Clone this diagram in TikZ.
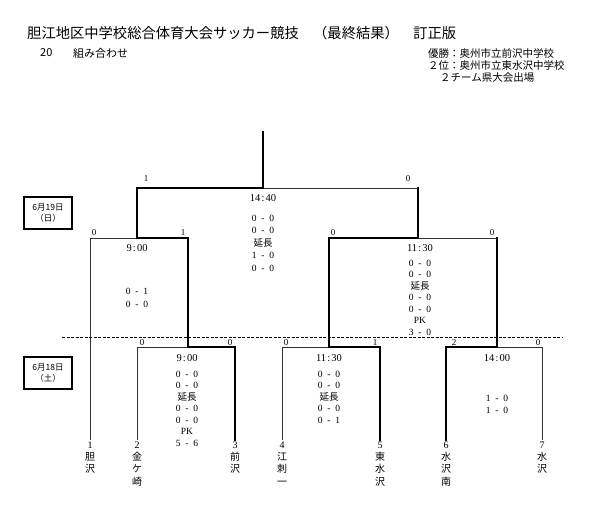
\documentclass[tikz,border=0pt]{standalone}
\usepackage{fontspec}
\setmainfont{Liberation Serif}
\newfontfamily\jp{Noto Sans CJK JP}
\usepackage{tikz}
\usetikzlibrary{positioning,calc}
\newcommand{\res}[2]{#1\enspace-\enspace#2}
\newcommand{\kick}[2]{#1\makebox[0.5em]{:}#2}

\begin{document}
\begin{tikzpicture}[x=1pt, y=-1pt]
  \tikzstyle{win} = [line width=2.2pt, line cap=rect]
  \tikzstyle{lose} = [line width=0.8pt, black!80]
  \tikzstyle{pt} = [font=\fontsize{9}{10}\selectfont, inner sep=0pt, anchor=base]
  \tikzstyle{time} = [font=\fontsize{10.5}{12}\selectfont, inner sep=0pt]
  \tikzstyle{score} = [font=\fontsize{9.5}{11.5}\selectfont, inner sep=0pt, align=center, anchor=north]
  \tikzstyle{team} = [font=\jp\fontsize{10}{12.3}\selectfont, inner sep=0pt, align=center, anchor=north]
  \tikzstyle{datebox} = [rectangle, draw, line width=1.6pt, minimum width=48pt, minimum height=32pt, align=center, font=\jp\fontsize{8.5}{10.5}\selectfont, inner sep=0pt]
  \tikzstyle{head} = [anchor=west, inner sep=0pt]

  \useasboundingbox (0,0) rectangle (590,505);

  \node[head, font=\jp\fontsize{14.3}{16}\selectfont] (title) at (27,33) {胆江地区中学校総合体育大会サッカー競技　（最終結果）　訂正版};
  \node[head, font=\jp\fontsize{11}{13}\selectfont] (round_no) at (40,53) {20};
  \node[head, font=\jp\fontsize{11}{13}\selectfont] (kumi) at (73,53) {組み合わせ};

  \node[head, font=\jp\fontsize{10.5}{12}\selectfont] (res_1) at (428,54) {優勝：奥州市立前沢中学校};
  \node[head, font=\jp\fontsize{10.5}{12}\selectfont] (res_2) at (428,66) {２位：奥州市立東水沢中学校};
  \node[head, font=\jp\fontsize{10.5}{12}\selectfont] (res_3) at (440,78) {２チーム県大会出場};

  \node[datebox] (day_2) at (48,213) {6月19日\\（日）};
  \node[datebox] (day_1) at (48,373) {6月18日\\（土）};

  \coordinate (dash_l) at (62,337);
  \coordinate (dash_r) at (563,337);
  \draw[line width=0.8pt, dash pattern=on 3pt off 1.5pt] (dash_l) -- (dash_r);

  \coordinate (t1) at (90,440);
  \coordinate (t2) at (137,440);
  \coordinate (t3) at (235,440);
  \coordinate (t4) at (282,440);
  \coordinate (t5) at (380,440);
  \coordinate (t6) at (446,440);
  \coordinate (t7) at (542,440);

  \coordinate (m_a) at (188,347);
  \coordinate (m_b) at (329,347);
  \coordinate (m_c) at (497,347);
  \coordinate (m_qf) at (137,238);
  \coordinate (m_sf) at (418,238);
  \coordinate (m_final) at (263,188);
  \coordinate (champ) at (263,132);

  \draw[lose] (t2) |- (m_a);
  \draw[win] (t3) |- (m_a);
  \draw[lose] (t4) |- (m_b);
  \draw[win] (t5) |- (m_b);
  \draw[win] (t6) |- (m_c);
  \draw[lose] (t7) |- (m_c);
  \draw[lose] (t1) |- (m_qf);
  \draw[win] (m_a) |- (m_qf);
  \draw[win] (m_b) |- (m_sf);
  \draw[win] (m_c) -- (m_c |- m_sf);
  \draw[lose] (m_c |- m_sf) -- (m_sf);
  \draw[win] (m_qf) |- (m_final);
  \draw[win] (m_sf) -- (m_sf |- m_final);
  \draw[lose] (m_sf |- m_final) -- (m_final);
  \draw[win] (m_final) -- (champ);

  \node[pt] (p_final_l) at (146,182) {1};
  \node[pt] (p_final_r) at (408,182) {0};
  \node[pt] (p_qf_l) at (94,236) {0};
  \node[pt] (p_qf_r) at (183,236) {1};
  \node[pt] (p_sf_l) at (333,236) {0};
  \node[pt] (p_sf_r) at (492,236) {0};
  \node[pt] (p_a_l) at (142,346) {0};
  \node[pt] (p_a_r) at (230,346) {0};
  \node[pt] (p_b_l) at (286,346) {0};
  \node[pt] (p_b_r) at (375,346) {1};
  \node[pt] (p_c_l) at (454,346) {2};
  \node[pt] (p_c_r) at (538,346) {0};

  \node[time] (time_final) at (263,198) {\kick{14}{40}};
  \node[time] (time_qf) at (137,248) {\kick{9}{00}};
  \node[time] (time_sf) at (420,248) {\kick{11}{30}};
  \node[time] (time_a) at (187,358) {\kick{9}{00}};
  \node[time] (time_b) at (329,358) {\kick{11}{30}};
  \node[time] (time_c) at (497,358) {\kick{14}{00}};

  \node[score, font=\fontsize{9.5}{12.5}\selectfont] (sc_final) at (263,214.5) {\res{0}{0}\\\res{0}{0}\\{\jp 延長}\\\res{1}{0}\\\res{0}{0}};
  \node[score, font=\fontsize{9.5}{13}\selectfont] (sc_qf) at (137,287.5) {\res{0}{1}\\\res{0}{0}};
  \node[score] (sc_sf) at (420,259.5) {\res{0}{0}\\\res{0}{0}\\{\jp 延長}\\\res{0}{0}\\\res{0}{0}\\PK\\\res{3}{0}};
  \node[score] (sc_a) at (187,370.5) {\res{0}{0}\\\res{0}{0}\\{\jp 延長}\\\res{0}{0}\\\res{0}{0}\\PK\\\res{5}{6}};
  \node[score] (sc_b) at (329,370.5) {\res{0}{0}\\\res{0}{0}\\{\jp 延長}\\\res{0}{0}\\\res{0}{1}};
  \node[score, font=\fontsize{9.5}{12}\selectfont] (sc_c) at (497,394.5) {\res{1}{0}\\\res{1}{0}};

  \node[team] (name_1) at ($(t1)+(0,1.5)$) {{\rmfamily 1}\\胆\\沢};
  \node[team] (name_2) at ($(t2)+(0,1.5)$) {{\rmfamily 2}\\金\\ケ\\崎};
  \node[team] (name_3) at ($(t3)+(0,1.5)$) {{\rmfamily 3}\\前\\沢};
  \node[team] (name_4) at ($(t4)+(0,1.5)$) {{\rmfamily 4}\\江\\刺\\一};
  \node[team] (name_5) at ($(t5)+(0,1.5)$) {{\rmfamily 5}\\東\\水\\沢};
  \node[team] (name_6) at ($(t6)+(0,1.5)$) {{\rmfamily 6}\\水\\沢\\南};
  \node[team] (name_7) at ($(t7)+(0,1.5)$) {{\rmfamily 7}\\水\\沢};
\end{tikzpicture}
\end{document}
